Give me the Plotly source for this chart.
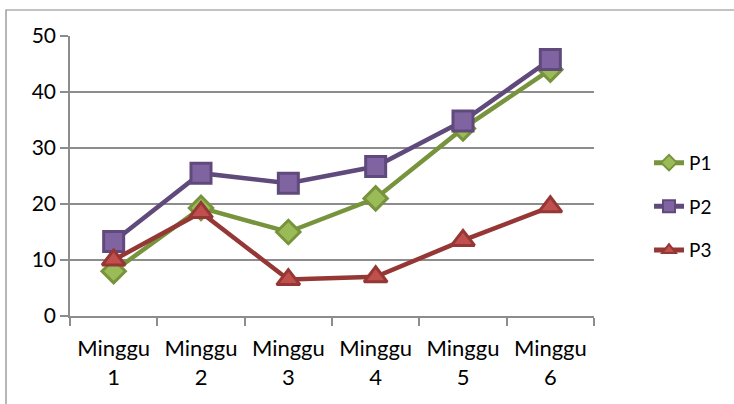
import plotly.graph_objects as go

categories = ["Minggu<br>1", "Minggu<br>2", "Minggu<br>3", "Minggu<br>4", "Minggu<br>5", "Minggu<br>6"]
p1 = [8.0, 19.3, 15.0, 21.0, 33.5, 44.0]
p2 = [13.3, 25.5, 23.7, 26.7, 34.8, 45.8]
p3 = [10.0, 18.5, 6.5, 7.0, 13.5, 19.5]
y_ticks = [0, 10, 20, 30, 40, 50]

FONT = "Lato"
grid = "#8c8c8c"

fig = go.Figure()
fig.add_trace(go.Scatter(
    x=categories, y=p1, name="P1", mode="lines+markers", legendgroup="a",
    line=dict(color="#77933C", width=4.5),
    marker=dict(symbol="diamond", size=18, color="#9BBB59", line=dict(color="#77933C", width=3)),
))
fig.add_trace(go.Scatter(
    x=categories, y=p2, name="P2", mode="lines+markers", legendgroup="b",
    line=dict(color="#604A7B", width=4.5),
    marker=dict(symbol="square", size=20, color="#8064A2", line=dict(color="#604A7B", width=3)),
))
fig.add_trace(go.Scatter(
    x=categories, y=p3, name="P3", mode="lines+markers", legendgroup="c",
    line=dict(color="#953735", width=4.5),
    marker=dict(symbol="triangle-up", size=20, color="#C0504D", line=dict(color="#953735", width=3)),
))

fig.update_layout(
    width=734, height=404,
    margin=dict(l=70, r=140, t=36, b=88),
    paper_bgcolor="white", plot_bgcolor="white",
    font=dict(family=FONT, size=21, color="black"),
    showlegend=True,
    legend=dict(x=1.105, y=0.39, xanchor="left", yanchor="middle",
                font=dict(family=FONT, size=19), tracegroupgap=16,
                itemsizing="constant", bgcolor="rgba(0,0,0,0)"),
    shapes=[dict(type="rect", xref="paper", yref="paper",
                 x0=(6 - 70) / 524, x1=(760 - 70) / 524,
                 y0=(316 - 430) / 280, y1=1 + 26 / 280,
                 line=dict(color="#868686", width=1.2), fillcolor="rgba(0,0,0,0)",
                 layer="below")],
)
fig.update_xaxes(
    type="category", showgrid=False, showline=True, linecolor=grid, linewidth=1.5,
    ticks="outside", ticklen=8, tickcolor=grid, tickwidth=1.5, tickson="boundaries",
    tickfont=dict(family=FONT, size=22), range=[-0.5, 5.5], ticklabelstandoff=12,
)
fig.update_yaxes(
    range=[0, 50], tickvals=y_ticks, showgrid=True, gridcolor=grid, gridwidth=1.5,
    showline=True, linecolor=grid, linewidth=1.5, zeroline=False,
    ticks="outside", ticklen=8, tickcolor=grid, tickwidth=1.5,
    tickfont=dict(family=FONT, size=21),
)

fig.write_html("out.html", config={"displayModeBar": False},
               post_script="document.body.style.margin='0';")
